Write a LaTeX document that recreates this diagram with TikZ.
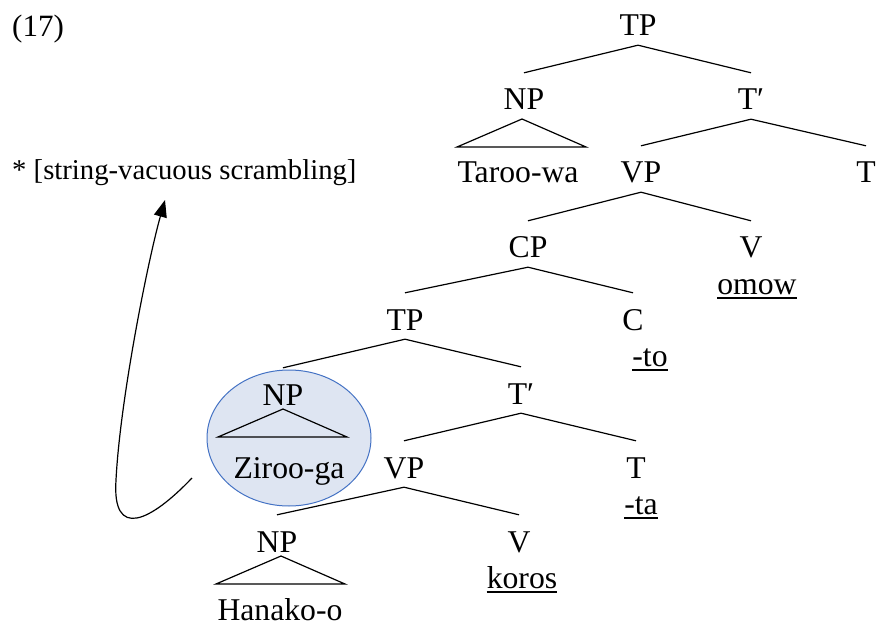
\documentclass[tikz,border=0pt]{standalone}
\usepackage{fontspec}
\setmainfont{Liberation Serif}
\usetikzlibrary{arrows.meta,calc}
\definecolor{hilite}{RGB}{222,229,242}
\definecolor{hiliteline}{RGB}{68,114,196}
\tikzset{
  cat/.style={anchor=base, inner sep=0pt, text height=37pt, text depth=9pt,
              font=\fontsize{31.7}{36}\selectfont},
  word/.style={anchor=base, inner sep=0pt, font=\fontsize{31.7}{36}\selectfont},
  branch/.style={line width=1.2pt},
  uline/.style={line width=1.6pt},
  movearrow/.style={line width=1.2pt, -{Triangle[length=17pt,width=13pt]}},
}
\begin{document}
\begin{tikzpicture}[x=1pt,y=-1pt]
\useasboundingbox (0,0) rectangle (877,628);

% highlighted constituent
\draw[fill=hilite, draw=hiliteline, line width=1pt] (289,438) ellipse [x radius=82, y radius=68];

% example number and annotation
\node[anchor=base west, inner sep=0pt, font=\fontsize{31}{34}\selectfont] (exnum) at (12,37) {(17)};
\node[anchor=base west, inner sep=0pt, font=\fontsize{28.7}{32}\selectfont] (lbl) at (12,180) {* [string-vacuous scrambling]};

% tree labels
\node[cat] (tp0) at (638,36) {TP};
\node[cat] (np1) at (524,110) {NP};
\node[cat] (tb1) at (751,110) {T′};
\node[word] (taroo) at (518,183) {Taroo-wa};
\node[cat] (vp2) at (641,183) {VP};
\node[cat] (t2) at (866,183) {T};
\node[cat] (cp3) at (528,258) {CP};
\node[cat] (v3) at (751,258) {V};
\node[word] (omow) at (757,294) {omow};
\node[cat] (tp4) at (405,330) {TP};
\node[cat] (c4) at (633,330) {C};
\node[word] (to) at (650,366) {-to};
\node[cat] (np5) at (283,405) {NP};
\node[cat] (tb5) at (521,404) {T′};
\node[word] (ziroo) at (289,478) {Ziroo-ga};
\node[cat] (vp6) at (404,478) {VP};
\node[cat] (t6) at (636,478) {T};
\node[word] (ta) at (641,514) {-ta};
\node[cat] (np7) at (277,552) {NP};
\node[cat] (v7) at (519,552) {V};
\node[word] (koros) at (522,588) {koros};
\node[word] (hanako) at (280,620) {Hanako-o};

% branches
\draw[branch] (tp0.south) -- (np1.north);
\draw[branch] (tp0.south) -- (tb1.north);
\draw[branch] (tb1.south) -- (vp2.north);
\draw[branch] (tb1.south) -- (t2.north);
\draw[branch] (vp2.south) -- (cp3.north);
\draw[branch] (vp2.south) -- (v3.north);
\draw[branch] (cp3.south) -- (tp4.north);
\draw[branch] (cp3.south) -- (c4.north);
\draw[branch] (tp4.south) -- (np5.north);
\draw[branch] (tp4.south) -- (tb5.north);
\draw[branch] (tb5.south) -- (vp6.north);
\draw[branch] (tb5.south) -- (t6.north);
\draw[branch] (vp6.south) -- (np7.north);
\draw[branch] (vp6.south) -- (v7.north);

% triangles for unanalysed phrases
\draw[branch, line join=miter] ($(np1.base)+(-2,9)$) -- ++(-65,28) -- ++(129,0) -- cycle;
\draw[branch, line join=miter] ($(np5.base)+(0,4)$) -- ++(-65,28) -- ++(129,0) -- cycle;
\draw[branch, line join=miter] ($(np7.base)+(4,4)$) -- ++(-65,28) -- ++(129,0) -- cycle;

% underlined morphemes
\draw[uline] ([yshift=-4pt]omow.base west) -- ([yshift=-4pt]omow.base east);
\draw[uline] ([yshift=-4pt]to.base west) -- ([yshift=-4pt]to.base east);
\draw[uline] ([yshift=-4pt]ta.base west) -- ([yshift=-4pt]ta.base east);
\draw[uline] ([yshift=-4pt]koros.base west) -- ([yshift=-4pt]koros.base east);

% movement arrow
\coordinate (arrS) at (192,478);
\coordinate (arrE) at (165,200);
\draw[movearrow] (arrS) .. controls (150,522) and (112,540) .. (116,480)
                        .. controls (120,400) and (148,260) .. (arrE);
\end{tikzpicture}
\end{document}
